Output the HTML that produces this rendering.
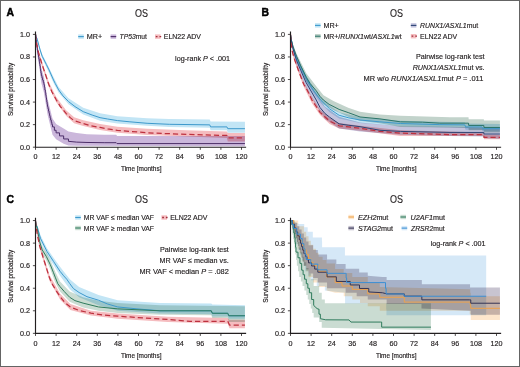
<!DOCTYPE html>
<html><head><meta charset="utf-8"><style>
html,body{margin:0;padding:0;background:#fff;}
body{width:520px;height:367px;overflow:hidden;position:relative;}
.frame{position:absolute;left:0;top:0;width:518px;height:365px;border:1px solid #646464;}
svg{position:absolute;left:0;top:0;filter:blur(0.35px);}
text{font-family:"Liberation Sans", sans-serif;fill:#231f20;stroke:#231f20;stroke-width:0.16px;}
.tk{font-size:7.2px;}
.lg{font-size:7.2px;}
.ax{font-size:7.8px;stroke-width:0.2px;}
.ttl{font-size:10px;stroke-width:0.14px;}
.pl{font-size:10.4px;font-weight:bold;fill:#000;stroke:#000;stroke-width:0.45px;}
</style></head><body>
<svg width="520" height="367" viewBox="0 0 520 367">
<text x="6.4" y="15.6" class="pl">A</text>
<text x="261.6" y="15.6" class="pl">B</text>
<text x="6.4" y="202.5" class="pl">C</text>
<text x="261.6" y="202.5" class="pl">D</text>
<path d="M35.50,34.40 L37.30,38.01 L38.93,43.99 L40.13,47.94 L42.20,54.14 L46.31,62.04 L53.53,77.04 L58.67,87.08 L68.46,98.13 L83.22,107.72 L100.05,113.36 L117.39,116.18 L147.08,118.21 L169.23,119.00 L209.74,119.56 L210.60,121.48 L244.93,121.82 L244.93,132.76 L227.77,132.76 L226.91,130.28 L210.60,130.28 L209.74,127.80 L169.23,126.90 L147.08,125.77 L117.39,123.51 L100.05,120.69 L83.22,114.49 L68.46,104.34 L58.67,92.72 L53.53,82.90 L46.31,66.89 L42.20,58.54 L40.13,51.88 L38.93,47.37 L37.30,40.94 L35.50,34.40 Z" fill="#c2e5f5" fill-opacity="1.00" style="mix-blend-mode:multiply"/>
<path d="M35.50,34.40 L37.30,44.55 L38.50,49.97 L39.79,54.48 L42.20,62.26 L43.74,66.77 L48.72,81.78 L56.10,96.67 L66.06,110.20 L74.12,117.31 L83.22,120.13 L100.05,124.08 L117.39,126.67 L147.08,128.81 L186.57,130.28 L226.91,131.41 L227.77,133.10 L244.93,133.10 L244.93,141.56 L227.77,141.56 L226.91,137.95 L186.57,136.60 L147.08,135.02 L117.39,132.76 L100.05,130.05 L83.22,125.99 L74.12,123.29 L66.06,115.84 L56.10,102.08 L48.72,86.74 L43.74,71.96 L42.20,67.45 L39.79,59.44 L38.50,54.93 L37.30,49.06 L35.50,34.40 Z" fill="#f5bcbf" fill-opacity="1.00" style="mix-blend-mode:multiply"/>
<path d="M35.50,34.40 L36.02,37.78 L37.30,45.68 L39.28,55.83 L41.34,68.24 L43.91,76.70 L47.52,98.70 L52.50,118.44 L56.10,124.08 L63.65,128.59 L68.46,131.41 L76.70,133.10 L87.00,134.23 L104.17,134.79 L116.18,134.79 L117.04,135.92 L244.93,135.92 L244.93,146.30 L76.70,145.85 L68.46,145.51 L63.65,143.82 L56.10,139.30 L52.50,134.79 L47.52,114.49 L43.91,92.49 L41.34,82.90 L39.28,67.11 L37.30,54.70 L36.02,42.30 L35.50,34.40 Z" fill="#cbb7db" fill-opacity="1.00" style="mix-blend-mode:multiply"/>
<path d="M35.50,34.40 L36.19,36.66 L37.30,39.48 L38.93,45.68 L40.13,49.97 L42.20,56.28 L46.31,64.40 L49.06,69.93 L53.53,79.97 L55.24,83.47 L58.67,89.90 L62.97,95.88 L68.46,101.52 L74.98,106.59 L83.22,111.67 L92.15,115.05 L100.05,117.65 L107.60,119.00 L117.39,120.58 L129.92,121.82 L147.08,123.29 L169.23,124.30 L209.74,124.87 L210.60,126.90 L226.91,126.90 L227.77,128.70 L244.93,128.70" fill="none" stroke="#3d99cc" stroke-width="1.00" stroke-linejoin="round"/>
<path d="M35.50,34.40 L35.76,34.40 L35.76,37.22 L36.02,37.22 L36.02,40.04 L36.34,40.04 L36.34,42.52 L36.66,42.52 L36.66,45.00 L36.98,45.00 L36.98,47.48 L37.30,47.48 L37.30,49.97 L37.70,49.97 L37.70,52.27 L38.09,52.27 L38.09,54.57 L38.49,54.57 L38.49,56.87 L38.88,56.87 L38.88,59.17 L39.28,59.17 L39.28,61.47 L39.62,61.47 L39.62,63.82 L39.96,63.82 L39.96,66.17 L40.31,66.17 L40.31,68.52 L40.65,68.52 L40.65,70.87 L40.99,70.87 L40.99,73.22 L41.34,73.22 L41.34,75.57 L41.98,75.57 L41.98,77.83 L42.62,77.83 L42.62,80.08 L43.27,80.08 L43.27,82.34 L43.91,82.34 L43.91,84.60 L44.38,84.60 L44.38,87.27 L44.86,87.27 L44.86,89.95 L45.33,89.95 L45.33,92.63 L45.80,92.63 L45.80,95.31 L46.14,95.31 L46.14,97.57 L46.49,97.57 L46.49,99.82 L46.83,99.82 L46.83,102.08 L47.17,102.08 L47.17,104.34 L47.52,104.34 L47.52,106.59 L48.03,106.59 L48.03,108.85 L48.55,108.85 L48.55,111.10 L49.06,111.10 L49.06,113.36 L49.58,113.36 L49.58,115.62 L50.09,115.62 L50.09,117.87 L50.69,117.87 L50.69,120.13 L51.29,120.13 L51.29,122.38 L51.89,122.38 L51.89,124.64 L52.50,124.64 L52.50,126.90 L54.38,126.90 L54.38,130.28 L56.10,130.28 L56.10,132.87 L59.53,132.87 L59.53,135.92 L63.65,135.92 L63.65,138.97 L68.46,138.97 L68.46,141.33 L76.70,142.12 L87.00,142.46 L104.17,142.69 L116.18,142.69 L117.04,143.59 L244.93,143.59" fill="none" stroke="#4b2d68" stroke-width="1.00" stroke-linejoin="round"/>
<path d="M35.50,34.40 L36.02,40.04 L37.30,46.81 L38.50,52.45 L39.79,56.96 L42.20,64.86 L43.74,69.37 L46.66,77.83 L48.72,84.26 L51.98,91.93 L56.10,99.49 L60.39,106.59 L66.06,113.36 L70.52,117.87 L74.12,120.69 L83.22,123.51 L90.95,125.77 L100.05,127.46 L107.60,128.93 L117.39,130.28 L129.92,131.41 L147.08,132.76 L167.68,133.66 L186.57,134.34 L226.91,135.47 L227.77,137.95 L244.93,137.95" fill="none" stroke="#bd303e" stroke-width="1.25" stroke-linejoin="round" stroke-dasharray="5.2,3.0"/>
<path d="M35.50,31.60 V147.20 H246.14" fill="none" stroke="#231f20" stroke-width="1.15"/>
<path d="M32.90,147.20 H35.50" stroke="#231f20" stroke-width="0.8"/>
<text x="29.90" y="149.70" text-anchor="end" class="tk">0.0</text>
<path d="M32.90,124.64 H35.50" stroke="#231f20" stroke-width="0.8"/>
<text x="29.90" y="127.14" text-anchor="end" class="tk">0.2</text>
<path d="M32.90,102.08 H35.50" stroke="#231f20" stroke-width="0.8"/>
<text x="29.90" y="104.58" text-anchor="end" class="tk">0.4</text>
<path d="M32.90,79.52 H35.50" stroke="#231f20" stroke-width="0.8"/>
<text x="29.90" y="82.02" text-anchor="end" class="tk">0.6</text>
<path d="M32.90,56.96 H35.50" stroke="#231f20" stroke-width="0.8"/>
<text x="29.90" y="59.46" text-anchor="end" class="tk">0.8</text>
<path d="M32.90,34.40 H35.50" stroke="#231f20" stroke-width="0.8"/>
<text x="29.90" y="36.90" text-anchor="end" class="tk">1.0</text>
<path d="M35.50,147.20 V149.80" stroke="#231f20" stroke-width="0.8"/>
<text x="35.50" y="159.10" text-anchor="middle" class="tk">0</text>
<path d="M56.10,147.20 V149.80" stroke="#231f20" stroke-width="0.8"/>
<text x="56.10" y="159.10" text-anchor="middle" class="tk">12</text>
<path d="M76.70,147.20 V149.80" stroke="#231f20" stroke-width="0.8"/>
<text x="76.70" y="159.10" text-anchor="middle" class="tk">24</text>
<path d="M97.30,147.20 V149.80" stroke="#231f20" stroke-width="0.8"/>
<text x="97.30" y="159.10" text-anchor="middle" class="tk">36</text>
<path d="M117.90,147.20 V149.80" stroke="#231f20" stroke-width="0.8"/>
<text x="117.90" y="159.10" text-anchor="middle" class="tk">48</text>
<path d="M138.50,147.20 V149.80" stroke="#231f20" stroke-width="0.8"/>
<text x="138.50" y="159.10" text-anchor="middle" class="tk">60</text>
<path d="M159.10,147.20 V149.80" stroke="#231f20" stroke-width="0.8"/>
<text x="159.10" y="159.10" text-anchor="middle" class="tk">72</text>
<path d="M179.70,147.20 V149.80" stroke="#231f20" stroke-width="0.8"/>
<text x="179.70" y="159.10" text-anchor="middle" class="tk">84</text>
<path d="M200.30,147.20 V149.80" stroke="#231f20" stroke-width="0.8"/>
<text x="200.30" y="159.10" text-anchor="middle" class="tk">96</text>
<path d="M220.90,147.20 V149.80" stroke="#231f20" stroke-width="0.8"/>
<text x="220.90" y="159.10" text-anchor="middle" class="tk">108</text>
<path d="M241.50,147.20 V149.80" stroke="#231f20" stroke-width="0.8"/>
<text x="241.50" y="159.10" text-anchor="middle" class="tk">120</text>
<text x="141.20" y="170.90" text-anchor="middle" class="ax" textLength="40.5" lengthAdjust="spacingAndGlyphs">Time [months]</text>
<text transform="translate(11.10,89.40) rotate(-90)" x="0" y="2.2" text-anchor="middle" class="ax" textLength="53" lengthAdjust="spacingAndGlyphs">Survival probability</text>
<text x="134.90" y="16.50" class="ttl" textLength="13.0" lengthAdjust="spacingAndGlyphs">OS</text>
<rect x="78.20" y="34.40" width="5.6" height="4.4" fill="#c2e5f5"/><path d="M78.20,36.60 h5.6" stroke="#3d99cc" stroke-width="1.1"/>
<text x="86.8" y="39.1" class="lg">MR+</text>
<rect x="110.60" y="34.40" width="5.6" height="4.4" fill="#cbb7db"/><path d="M110.60,36.60 h5.6" stroke="#4b2d68" stroke-width="1.1"/>
<text x="119.6" y="39.1" class="lg" lengthAdjust="spacingAndGlyphs" textLength="27.2"><tspan font-style="italic">TP53</tspan>mut</text>
<rect x="155.00" y="34.40" width="5.6" height="4.4" fill="#f5bcbf"/><path d="M155.80,36.60 h1.7 m2.0,0 h1.7" stroke="#a02c3a" stroke-width="1.3"/>
<text x="163.8" y="39.1" class="lg" lengthAdjust="spacingAndGlyphs" textLength="37.2">ELN22 ADV</text>
<text x="230" y="61.0" text-anchor="end" class="lg">log-rank <tspan font-style="italic">P</tspan> &lt; .001</text>
<path d="M290.50,34.40 L293.07,44.55 L296.51,53.58 L306.29,73.32 L316.25,86.29 L323.46,95.31 L333.42,100.95 L348.18,107.72 L360.02,111.67 L379.94,114.49 L400.37,115.84 L449.98,117.20 L468.52,117.20 L468.69,119.34 L483.80,119.34 L483.97,120.47 L499.93,120.47 L499.93,132.54 L483.97,132.54 L483.80,130.28 L468.69,130.28 L468.52,128.02 L449.98,127.46 L400.37,126.90 L379.94,123.29 L360.02,120.69 L348.18,116.74 L333.42,109.98 L323.46,104.34 L316.25,95.31 L306.29,81.21 L296.51,58.65 L293.07,49.06 L290.50,34.40 Z" fill="#c2d3cb" fill-opacity="1.00" style="mix-blend-mode:multiply"/>
<path d="M290.50,34.40 L293.07,45.68 L295.48,53.58 L301.14,65.42 L306.81,76.14 L313.16,86.85 L320.71,97.00 L329.64,105.46 L339.08,112.23 L360.02,117.31 L400.37,120.69 L439.85,121.82 L464.74,122.16 L465.60,123.51 L499.93,124.08 L499.93,131.41 L482.77,131.41 L481.91,129.72 L465.60,129.72 L464.74,127.46 L439.85,127.23 L400.37,126.33 L360.02,122.95 L339.08,118.44 L329.64,112.23 L320.71,103.21 L313.16,93.06 L306.81,82.90 L301.14,71.06 L295.48,59.22 L293.07,50.19 L290.50,34.40 Z" fill="#c2e5f5" fill-opacity="1.00" style="mix-blend-mode:multiply"/>
<path d="M290.50,34.40 L293.07,45.68 L296.51,55.83 L305.95,76.70 L316.25,94.18 L324.83,106.59 L339.08,116.74 L360.02,122.38 L400.37,126.33 L499.93,127.46 L499.93,138.74 L483.97,138.18 L483.80,136.48 L449.98,135.92 L400.37,134.79 L360.02,131.41 L339.08,128.59 L324.83,119.00 L316.25,105.46 L305.95,87.98 L296.51,64.86 L293.07,52.45 L290.50,34.40 Z" fill="#c4c4de" fill-opacity="1.00" style="mix-blend-mode:multiply"/>
<path d="M290.50,34.40 L292.22,49.06 L294.62,57.52 L298.74,68.80 L303.72,81.78 L311.96,97.00 L320.03,109.41 L329.64,117.87 L339.08,122.95 L360.02,125.77 L400.37,130.28 L483.80,132.54 L483.97,134.79 L499.93,134.79 L499.93,139.30 L483.97,139.30 L483.80,135.92 L400.37,135.92 L360.02,130.84 L339.08,128.59 L329.64,124.08 L320.03,115.05 L311.96,103.21 L303.72,86.74 L298.74,73.54 L294.62,61.81 L292.22,53.58 L290.50,34.40 Z" fill="#f5bcbf" fill-opacity="1.00" style="mix-blend-mode:multiply"/>
<path d="M290.50,34.40 L291.36,40.04 L293.07,47.94 L295.48,56.40 L301.14,68.24 L306.81,79.52 L313.16,90.01 L320.71,100.05 L329.64,108.85 L339.08,115.28 L348.87,117.87 L360.02,120.02 L379.77,121.82 L400.37,123.51 L439.85,124.64 L464.74,124.87 L465.60,126.90 L481.91,126.90 L482.77,128.70 L499.93,128.70" fill="none" stroke="#3d99cc" stroke-width="1.00" stroke-linejoin="round"/>
<path d="M290.50,34.40 L291.36,40.04 L293.07,46.81 L296.51,56.17 L300.80,65.98 L306.29,77.26 L310.07,83.47 L316.25,90.80 L320.03,96.44 L323.46,100.05 L329.12,104.34 L339.08,109.41 L348.18,112.57 L360.02,116.97 L379.94,118.89 L400.37,121.82 L422.51,122.16 L439.85,123.17 L468.52,123.17 L468.69,125.43 L483.80,125.43 L483.97,127.46 L499.93,127.46" fill="none" stroke="#2a7468" stroke-width="1.00" stroke-linejoin="round"/>
<path d="M290.50,34.40 L291.36,41.17 L293.07,49.06 L296.51,60.34 L300.80,70.50 L305.95,82.34 L310.41,90.01 L316.25,100.05 L320.03,107.49 L324.83,113.36 L329.64,117.20 L339.08,123.85 L348.18,125.20 L360.02,126.67 L379.94,130.28 L400.37,131.41 L449.98,132.42 L483.80,132.42 L483.97,134.00 L499.93,134.00" fill="none" stroke="#2c4474" stroke-width="1.00" stroke-linejoin="round"/>
<path d="M290.50,34.40 L291.19,43.42 L292.22,51.32 L294.62,59.67 L298.74,71.17 L303.72,84.26 L307.15,90.01 L311.96,100.05 L320.03,112.34 L329.64,121.03 L339.08,125.77 L360.02,128.25 L379.77,131.41 L400.37,133.10 L449.98,134.68 L483.80,134.68 L483.97,137.39 L499.93,137.39" fill="none" stroke="#bd303e" stroke-width="1.25" stroke-linejoin="round" stroke-dasharray="5.2,3.0"/>
<path d="M290.50,31.60 V147.20 H501.13" fill="none" stroke="#231f20" stroke-width="1.15"/>
<path d="M287.90,147.20 H290.50" stroke="#231f20" stroke-width="0.8"/>
<text x="284.90" y="149.70" text-anchor="end" class="tk">0.0</text>
<path d="M287.90,124.64 H290.50" stroke="#231f20" stroke-width="0.8"/>
<text x="284.90" y="127.14" text-anchor="end" class="tk">0.2</text>
<path d="M287.90,102.08 H290.50" stroke="#231f20" stroke-width="0.8"/>
<text x="284.90" y="104.58" text-anchor="end" class="tk">0.4</text>
<path d="M287.90,79.52 H290.50" stroke="#231f20" stroke-width="0.8"/>
<text x="284.90" y="82.02" text-anchor="end" class="tk">0.6</text>
<path d="M287.90,56.96 H290.50" stroke="#231f20" stroke-width="0.8"/>
<text x="284.90" y="59.46" text-anchor="end" class="tk">0.8</text>
<path d="M287.90,34.40 H290.50" stroke="#231f20" stroke-width="0.8"/>
<text x="284.90" y="36.90" text-anchor="end" class="tk">1.0</text>
<path d="M290.50,147.20 V149.80" stroke="#231f20" stroke-width="0.8"/>
<text x="290.50" y="159.10" text-anchor="middle" class="tk">0</text>
<path d="M311.10,147.20 V149.80" stroke="#231f20" stroke-width="0.8"/>
<text x="311.10" y="159.10" text-anchor="middle" class="tk">12</text>
<path d="M331.70,147.20 V149.80" stroke="#231f20" stroke-width="0.8"/>
<text x="331.70" y="159.10" text-anchor="middle" class="tk">24</text>
<path d="M352.30,147.20 V149.80" stroke="#231f20" stroke-width="0.8"/>
<text x="352.30" y="159.10" text-anchor="middle" class="tk">36</text>
<path d="M372.90,147.20 V149.80" stroke="#231f20" stroke-width="0.8"/>
<text x="372.90" y="159.10" text-anchor="middle" class="tk">48</text>
<path d="M393.50,147.20 V149.80" stroke="#231f20" stroke-width="0.8"/>
<text x="393.50" y="159.10" text-anchor="middle" class="tk">60</text>
<path d="M414.10,147.20 V149.80" stroke="#231f20" stroke-width="0.8"/>
<text x="414.10" y="159.10" text-anchor="middle" class="tk">72</text>
<path d="M434.70,147.20 V149.80" stroke="#231f20" stroke-width="0.8"/>
<text x="434.70" y="159.10" text-anchor="middle" class="tk">84</text>
<path d="M455.30,147.20 V149.80" stroke="#231f20" stroke-width="0.8"/>
<text x="455.30" y="159.10" text-anchor="middle" class="tk">96</text>
<path d="M475.90,147.20 V149.80" stroke="#231f20" stroke-width="0.8"/>
<text x="475.90" y="159.10" text-anchor="middle" class="tk">108</text>
<path d="M496.50,147.20 V149.80" stroke="#231f20" stroke-width="0.8"/>
<text x="496.50" y="159.10" text-anchor="middle" class="tk">120</text>
<text x="396.20" y="170.90" text-anchor="middle" class="ax" textLength="40.5" lengthAdjust="spacingAndGlyphs">Time [months]</text>
<text transform="translate(266.10,89.40) rotate(-90)" x="0" y="2.2" text-anchor="middle" class="ax" textLength="53" lengthAdjust="spacingAndGlyphs">Survival probability</text>
<text x="389.90" y="16.50" class="ttl" textLength="13.0" lengthAdjust="spacingAndGlyphs">OS</text>
<rect x="315.00" y="23.20" width="5.6" height="4.4" fill="#c2e5f5"/><path d="M315.00,25.40 h5.6" stroke="#3d99cc" stroke-width="1.1"/>
<text x="323.4" y="27.9" class="lg">MR+</text>
<rect x="315.00" y="34.00" width="5.6" height="4.4" fill="#c2d3cb"/><path d="M315.00,36.20 h5.6" stroke="#2a7468" stroke-width="1.1"/>
<text x="323.4" y="38.7" class="lg" lengthAdjust="spacingAndGlyphs" textLength="78.2">MR+/<tspan font-style="italic">RUNX1</tspan>wt/<tspan font-style="italic">ASXL1</tspan>wt</text>
<rect x="410.80" y="23.20" width="5.6" height="4.4" fill="#c4c4de"/><path d="M410.80,25.40 h5.6" stroke="#2c4474" stroke-width="1.1"/>
<text x="420.0" y="27.9" class="lg" lengthAdjust="spacingAndGlyphs" textLength="58.2"><tspan font-style="italic">RUNX1/ASXL1</tspan>mut</text>
<rect x="410.80" y="34.00" width="5.6" height="4.4" fill="#f5bcbf"/><path d="M411.60,36.20 h1.7 m2.0,0 h1.7" stroke="#a02c3a" stroke-width="1.3"/>
<text x="420.0" y="38.7" class="lg" lengthAdjust="spacingAndGlyphs" textLength="37.2">ELN22 ADV</text>
<text x="484.6" y="59.2" text-anchor="end" class="lg">Pairwise log-rank test</text>
<text x="484.6" y="70.1" text-anchor="end" class="lg"><tspan font-style="italic">RUNX1/ASXL1</tspan>mut vs.</text>
<text x="363.6" y="80.9" class="lg" lengthAdjust="spacingAndGlyphs" textLength="119.7">MR w/o <tspan font-style="italic">RUNX1/ASXL1</tspan>mut <tspan font-style="italic">P</tspan> = .011</text>
<path d="M35.50,220.55 L37.22,225.63 L39.62,238.03 L42.20,245.93 L46.31,252.13 L50.26,260.03 L55.24,271.87 L60.05,281.46 L69.66,291.61 L83.05,297.25 L98.50,300.64 L117.73,302.89 L159.96,305.15 L244.93,306.28 L244.93,322.07 L228.80,322.07 L227.77,318.12 L212.32,318.12 L211.29,315.30 L159.96,314.74 L117.73,313.05 L98.50,310.79 L83.05,307.41 L69.66,301.77 L60.05,291.61 L55.24,282.59 L50.26,269.05 L46.31,260.59 L42.20,253.83 L39.62,245.37 L37.22,231.83 L35.50,220.55 Z" fill="#cadcd2" fill-opacity="1.00" style="mix-blend-mode:multiply"/>
<path d="M35.50,220.55 L37.22,225.06 L40.48,235.21 L47.00,248.19 L53.53,257.77 L60.05,266.80 L69.83,279.21 L79.10,287.10 L98.50,295.00 L117.73,300.19 L159.96,302.89 L211.29,303.46 L212.32,304.59 L244.93,305.15 L244.93,318.69 L228.80,318.69 L227.77,316.43 L212.32,316.43 L211.29,314.17 L159.96,313.61 L117.73,310.79 L98.50,305.15 L79.10,297.25 L69.83,289.36 L60.05,275.82 L53.53,265.11 L47.00,254.95 L40.48,241.42 L37.22,229.01 L35.50,220.55 Z" fill="#c2e5f5" fill-opacity="1.00" style="mix-blend-mode:multiply"/>
<path d="M35.50,220.55 L37.30,231.83 L39.62,243.11 L43.05,254.39 L49.58,275.26 L60.22,293.87 L70.35,304.02 L90.95,310.79 L117.73,313.61 L167.68,316.66 L227.77,318.12 L229.48,319.81 L244.93,319.81 L244.93,328.27 L229.48,328.27 L227.77,323.76 L167.68,322.07 L117.73,318.69 L90.95,315.53 L70.35,309.89 L60.22,299.74 L49.58,280.90 L43.05,260.03 L39.62,248.52 L37.30,236.79 L35.50,220.55 Z" fill="#f5bcbf" fill-opacity="1.00" style="mix-blend-mode:multiply"/>
<path d="M35.50,220.55 L36.19,225.06 L37.22,226.87 L40.48,238.37 L47.00,251.46 L53.53,261.38 L60.05,271.31 L63.65,275.82 L66.74,279.21 L69.83,283.72 L73.44,288.57 L79.10,292.52 L87.00,296.69 L98.50,300.19 L107.60,304.02 L117.73,306.95 L136.96,308.87 L159.96,310.79 L211.29,310.79 L212.32,313.27 L227.77,313.27 L228.80,315.75 L244.93,315.75" fill="none" stroke="#3d99cc" stroke-width="1.00" stroke-linejoin="round"/>
<path d="M35.50,220.55 L36.19,225.06 L37.22,228.45 L39.62,241.64 L42.20,249.88 L46.31,256.42 L50.26,264.54 L53.53,272.78 L55.24,277.18 L57.82,283.72 L60.05,286.65 L64.34,291.61 L69.66,297.25 L74.98,300.64 L83.05,303.12 L98.50,306.95 L117.73,308.87 L159.96,310.79 L211.29,310.79 L212.32,313.27 L227.77,313.27 L228.80,315.75 L244.93,315.75" fill="none" stroke="#2f7b5c" stroke-width="1.00" stroke-linejoin="round"/>
<path d="M35.50,220.55 L36.02,226.19 L37.30,234.31 L39.62,245.82 L43.05,257.21 L46.14,267.02 L49.58,278.08 L52.67,284.85 L56.10,290.49 L60.22,296.80 L64.68,302.33 L70.35,306.95 L78.42,310.23 L90.95,313.16 L104.17,315.08 L117.73,316.20 L129.92,316.99 L167.68,319.48 L190.00,321.28 L227.77,321.28 L229.48,325.00 L244.93,325.00" fill="none" stroke="#bd303e" stroke-width="1.25" stroke-linejoin="round" stroke-dasharray="5.2,3.0"/>
<path d="M35.50,217.75 V333.35 H246.14" fill="none" stroke="#231f20" stroke-width="1.15"/>
<path d="M32.90,333.35 H35.50" stroke="#231f20" stroke-width="0.8"/>
<text x="29.90" y="335.85" text-anchor="end" class="tk">0.0</text>
<path d="M32.90,310.79 H35.50" stroke="#231f20" stroke-width="0.8"/>
<text x="29.90" y="313.29" text-anchor="end" class="tk">0.2</text>
<path d="M32.90,288.23 H35.50" stroke="#231f20" stroke-width="0.8"/>
<text x="29.90" y="290.73" text-anchor="end" class="tk">0.4</text>
<path d="M32.90,265.67 H35.50" stroke="#231f20" stroke-width="0.8"/>
<text x="29.90" y="268.17" text-anchor="end" class="tk">0.6</text>
<path d="M32.90,243.11 H35.50" stroke="#231f20" stroke-width="0.8"/>
<text x="29.90" y="245.61" text-anchor="end" class="tk">0.8</text>
<path d="M32.90,220.55 H35.50" stroke="#231f20" stroke-width="0.8"/>
<text x="29.90" y="223.05" text-anchor="end" class="tk">1.0</text>
<path d="M35.50,333.35 V335.95" stroke="#231f20" stroke-width="0.8"/>
<text x="35.50" y="346.00" text-anchor="middle" class="tk">0</text>
<path d="M56.10,333.35 V335.95" stroke="#231f20" stroke-width="0.8"/>
<text x="56.10" y="346.00" text-anchor="middle" class="tk">12</text>
<path d="M76.70,333.35 V335.95" stroke="#231f20" stroke-width="0.8"/>
<text x="76.70" y="346.00" text-anchor="middle" class="tk">24</text>
<path d="M97.30,333.35 V335.95" stroke="#231f20" stroke-width="0.8"/>
<text x="97.30" y="346.00" text-anchor="middle" class="tk">36</text>
<path d="M117.90,333.35 V335.95" stroke="#231f20" stroke-width="0.8"/>
<text x="117.90" y="346.00" text-anchor="middle" class="tk">48</text>
<path d="M138.50,333.35 V335.95" stroke="#231f20" stroke-width="0.8"/>
<text x="138.50" y="346.00" text-anchor="middle" class="tk">60</text>
<path d="M159.10,333.35 V335.95" stroke="#231f20" stroke-width="0.8"/>
<text x="159.10" y="346.00" text-anchor="middle" class="tk">72</text>
<path d="M179.70,333.35 V335.95" stroke="#231f20" stroke-width="0.8"/>
<text x="179.70" y="346.00" text-anchor="middle" class="tk">84</text>
<path d="M200.30,333.35 V335.95" stroke="#231f20" stroke-width="0.8"/>
<text x="200.30" y="346.00" text-anchor="middle" class="tk">96</text>
<path d="M220.90,333.35 V335.95" stroke="#231f20" stroke-width="0.8"/>
<text x="220.90" y="346.00" text-anchor="middle" class="tk">108</text>
<path d="M241.50,333.35 V335.95" stroke="#231f20" stroke-width="0.8"/>
<text x="241.50" y="346.00" text-anchor="middle" class="tk">120</text>
<text x="141.20" y="357.80" text-anchor="middle" class="ax" textLength="40.5" lengthAdjust="spacingAndGlyphs">Time [months]</text>
<text transform="translate(11.10,276.30) rotate(-90)" x="0" y="2.2" text-anchor="middle" class="ax" textLength="53" lengthAdjust="spacingAndGlyphs">Survival probability</text>
<text x="134.90" y="203.40" class="ttl" textLength="13.0" lengthAdjust="spacingAndGlyphs">OS</text>
<rect x="75.20" y="215.30" width="5.6" height="4.4" fill="#c2e5f5"/><path d="M75.20,217.50 h5.6" stroke="#3d99cc" stroke-width="1.1"/>
<text x="83.8" y="220.0" class="lg" lengthAdjust="spacingAndGlyphs" textLength="70.2">MR VAF ≤ median VAF</text>
<rect x="75.20" y="225.80" width="5.6" height="4.4" fill="#cadcd2"/><path d="M75.20,228.00 h5.6" stroke="#2f7b5c" stroke-width="1.1"/>
<text x="83.8" y="230.5" class="lg" lengthAdjust="spacingAndGlyphs" textLength="70.2">MR VAF ≥ median VAF</text>
<rect x="161.40" y="215.30" width="5.6" height="4.4" fill="#f5bcbf"/><path d="M162.20,217.50 h1.7 m2.0,0 h1.7" stroke="#a02c3a" stroke-width="1.3"/>
<text x="170.2" y="220.0" class="lg" lengthAdjust="spacingAndGlyphs" textLength="37.2">ELN22 ADV</text>
<text x="228.8" y="252.1" text-anchor="end" class="lg">Pairwise log-rank test</text>
<text x="228.8" y="263.3" text-anchor="end" class="lg">MR VAF ≤ median vs.</text>
<text x="139.5" y="273.8" class="lg" lengthAdjust="spacingAndGlyphs" textLength="89.3">MR VAF &lt; median <tspan font-style="italic">P</tspan> = .082</text>
<path d="M290.50,220.55 L295.65,222.24 L299.08,223.93 L304.23,223.93 L304.23,227.32 L307.67,227.32 L307.67,231.83 L312.82,231.83 L312.82,237.47 L321.92,237.47 L321.92,241.19 L322.09,241.19 L322.09,247.17 L344.75,247.17 L344.92,247.17 L344.92,255.52 L486.20,255.52 L486.20,315.30 L386.46,315.30 L386.46,309.38 L386.20,309.38 L386.20,303.46 L385.95,303.46 L345.09,303.46 L345.09,298.10 L345.00,298.10 L345.00,292.74 L344.92,292.74 L324.83,290.49 L324.83,285.97 L316.76,285.97 L316.76,280.33 L311.10,280.33 L311.10,275.82 L308.18,275.82 L308.18,271.31 L305.26,271.31 L305.26,265.95 L303.59,265.95 L303.59,260.59 L301.92,260.59 L301.92,255.24 L300.24,255.24 L300.24,249.88 L298.57,249.88 L298.57,244.24 L296.17,244.24 L296.17,238.60 L293.76,238.60 L293.76,232.58 L292.67,232.58 L292.67,226.57 L291.59,226.57 L291.59,220.55 L290.50,220.55 Z" fill="#d5e8f7" fill-opacity="1.00" style="mix-blend-mode:multiply"/>
<path d="M290.50,220.55 L294.62,222.81 L296.94,222.81 L296.94,226.19 L299.25,226.19 L299.25,229.57 L301.57,229.57 L301.57,233.52 L303.89,233.52 L303.89,237.47 L306.21,237.47 L306.21,241.42 L308.52,241.42 L308.52,245.37 L313.16,245.37 L313.16,249.88 L317.80,249.88 L317.80,254.39 L327.06,254.39 L327.06,259.47 L336.34,259.47 L336.34,264.09 L345.61,264.09 L345.61,268.72 L359.17,268.72 L359.17,272.44 L367.75,272.44 L367.75,275.82 L382.51,276.95 L386.63,276.95 L386.63,280.11 L421.48,280.11 L421.83,280.11 L421.83,284.28 L469.89,284.28 L470.06,284.28 L470.06,287.55 L499.93,287.55 L499.93,314.85 L470.75,314.85 L470.75,310.79 L469.89,310.79 L421.48,308.53 L421.48,304.02 L386.63,304.02 L386.63,299.51 L367.75,299.51 L367.75,296.13 L356.68,296.13 L356.68,292.74 L345.61,292.74 L345.61,288.23 L327.06,288.23 L327.06,282.59 L317.80,282.59 L317.80,278.08 L313.16,278.08 L313.16,273.57 L308.52,273.57 L308.52,269.62 L306.21,269.62 L306.21,265.67 L303.89,265.67 L303.89,261.72 L302.73,261.72 L302.73,257.77 L301.57,257.77 L301.57,253.83 L300.41,253.83 L300.41,249.88 L299.25,249.88 L299.25,245.93 L298.10,245.93 L298.10,241.98 L296.94,241.98 L296.94,238.03 L295.78,238.03 L295.78,234.09 L294.62,234.09 L294.62,229.57 L293.25,229.57 L293.25,225.06 L291.87,225.06 L291.87,220.55 L290.50,220.55 Z" fill="#c8c4d0" fill-opacity="1.00" style="mix-blend-mode:multiply"/>
<path d="M290.50,220.55 L293.76,220.55 L298.23,220.55 L298.23,226.19 L303.89,226.19 L303.89,231.83 L306.21,231.83 L306.21,236.34 L308.52,236.34 L308.52,240.85 L310.84,240.85 L310.84,244.80 L313.16,244.80 L313.16,248.75 L315.91,248.75 L315.91,252.70 L318.65,252.70 L318.65,256.65 L322.60,256.65 L322.60,260.03 L326.55,260.03 L326.55,263.41 L335.13,263.41 L335.13,269.05 L343.72,269.05 L343.72,273.00 L352.30,273.00 L352.30,276.95 L367.75,276.95 L367.75,282.59 L379.77,282.59 L379.77,287.10 L469.72,289.36 L470.24,289.36 L470.24,292.74 L470.75,292.74 L470.75,296.13 L499.93,296.13 L499.93,320.04 L470.75,320.04 L470.75,314.17 L469.72,314.17 L469.72,310.79 L379.77,310.79 L379.77,306.28 L367.75,306.28 L367.75,302.89 L360.02,302.89 L360.02,299.51 L352.30,299.51 L352.30,296.13 L343.72,296.13 L343.72,292.74 L335.13,292.74 L326.55,290.49 L326.55,287.10 L318.65,287.10 L318.65,282.59 L313.16,282.59 L313.16,276.95 L308.52,276.95 L308.52,271.31 L306.21,271.31 L306.21,265.67 L303.89,265.67 L303.89,261.44 L302.47,261.44 L302.47,257.21 L301.06,257.21 L301.06,252.98 L299.64,252.98 L299.64,248.75 L298.23,248.75 L298.23,243.86 L296.74,243.86 L296.74,238.97 L295.25,238.97 L295.25,234.09 L293.76,234.09 L293.76,229.57 L292.67,229.57 L292.67,225.06 L291.59,225.06 L291.59,220.55 L290.50,220.55 Z" fill="#fde6cc" fill-opacity="1.00" style="mix-blend-mode:multiply"/>
<path d="M290.50,220.55 L294.62,220.55 L294.62,226.19 L295.74,226.19 L295.74,231.27 L296.85,231.27 L296.85,236.34 L298.05,236.34 L298.05,241.98 L299.25,241.98 L299.25,247.62 L300.89,247.62 L300.89,252.13 L302.52,252.13 L302.52,256.65 L304.40,256.65 L304.40,262.29 L306.29,262.29 L306.29,267.93 L308.52,267.93 L308.52,273.57 L310.76,273.57 L310.76,279.21 L313.68,279.21 L313.68,285.97 L319.17,285.97 L319.17,292.74 L321.74,292.74 L321.74,299.51 L324.83,299.51 L324.83,303.35 L430.92,303.35 L430.92,329.97 L321.74,327.71 L321.74,322.07 L319.17,322.07 L319.17,317.56 L313.68,317.56 L313.68,313.05 L312.22,313.05 L312.22,308.53 L310.76,308.53 L310.76,304.02 L309.27,304.02 L309.27,299.51 L307.78,299.51 L307.78,295.00 L306.29,295.00 L306.29,290.49 L304.40,290.49 L304.40,285.97 L302.52,285.97 L302.52,281.46 L300.89,281.46 L300.89,276.95 L299.25,276.95 L299.25,271.31 L298.05,271.31 L298.05,265.67 L296.85,265.67 L296.85,260.03 L296.11,260.03 L296.11,254.39 L295.36,254.39 L295.36,248.75 L294.62,248.75 L294.62,244.05 L293.93,244.05 L293.93,239.35 L293.25,239.35 L293.25,234.65 L292.56,234.65 L292.56,229.95 L291.87,229.95 L291.87,225.25 L291.19,225.25 L291.19,220.55 L290.50,220.55 Z" fill="#cadcd2" fill-opacity="1.00" style="mix-blend-mode:multiply"/>
<path d="M290.50,220.55 L293.76,220.55 L293.76,226.19 L295.25,226.19 L295.25,229.57 L296.74,229.57 L296.74,232.96 L298.23,232.96 L298.23,236.34 L300.11,236.34 L300.11,240.85 L302.00,240.85 L302.00,245.37 L303.89,245.37 L303.89,249.88 L306.21,249.88 L306.21,254.39 L308.52,254.39 L308.52,258.90 L310.84,258.90 L310.84,262.29 L313.16,262.29 L313.16,265.67 L318.65,265.67 L318.65,271.31 L326.55,271.31 L326.55,276.95 L335.13,276.95 L335.13,282.59 L342.00,282.59 L342.00,285.97 L352.30,285.97 L352.30,289.36 L367.75,289.36 L367.75,293.87 L379.77,293.87 L379.77,297.25 L403.80,297.25 L404.31,297.25 L404.31,302.10 L469.72,302.10 L470.24,302.10 L470.24,305.21 L470.75,305.21 L470.75,308.31 L499.93,308.31" fill="none" stroke="#eea24a" stroke-width="1.00" stroke-linejoin="round"/>
<path d="M290.50,220.55 L291.79,220.55 L291.79,224.50 L293.07,224.50 L293.07,228.45 L293.85,228.45 L293.85,232.96 L294.62,232.96 L294.62,237.47 L295.08,237.47 L295.08,242.36 L295.54,242.36 L295.54,247.25 L295.99,247.25 L295.99,252.13 L297.97,252.13 L297.97,257.77 L299.94,257.77 L299.94,263.41 L301.66,263.41 L301.66,270.18 L303.12,270.18 L303.12,274.69 L304.58,274.69 L304.58,279.21 L306.29,279.21 L306.29,283.72 L307.84,283.72 L307.84,288.23 L309.38,288.23 L309.38,292.74 L311.62,292.74 L311.62,299.51 L313.68,299.51 L313.68,305.15 L315.56,307.41 L317.97,309.10 L319.00,309.10 L319.00,314.17 L320.37,314.17 L320.37,318.69 L325.69,319.81 L349.04,319.93 L350.93,322.07 L380.45,322.07 L381.66,322.07 L381.66,327.15 L430.92,327.15" fill="none" stroke="#2f7b5c" stroke-width="1.00" stroke-linejoin="round"/>
<path d="M290.50,220.55 L292.56,220.55 L292.56,224.27 L294.62,224.27 L294.62,227.99 L296.17,227.99 L296.17,231.91 L297.71,231.91 L297.71,235.82 L299.25,235.82 L299.25,239.73 L300.41,239.73 L300.41,243.19 L301.57,243.19 L301.57,246.66 L302.73,246.66 L302.73,250.13 L303.89,250.13 L303.89,253.60 L305.44,253.60 L305.44,256.68 L306.98,256.68 L306.98,259.77 L308.52,259.77 L308.52,262.85 L311.62,262.85 L311.62,265.97 L314.70,265.97 L314.70,269.09 L317.80,269.09 L317.80,272.21 L327.06,272.21 L327.06,276.84 L336.33,276.84 L336.33,281.46 L350.24,281.46 L350.24,284.96 L359.51,284.96 L359.51,288.46 L368.78,288.46 L368.78,291.95 L382.51,292.74 L386.63,293.87 L403.80,293.87 L404.31,293.87 L404.31,296.13 L421.48,296.13 L421.83,296.13 L421.83,299.85 L469.72,299.85 L470.75,299.85 L470.75,303.23 L499.93,303.23" fill="none" stroke="#353455" stroke-width="1.00" stroke-linejoin="round"/>
<path d="M290.50,220.55 L292.13,220.55 L292.13,224.50 L293.76,224.50 L293.76,228.45 L296.85,228.45 L296.85,234.09 L300.46,234.09 L300.46,238.49 L302.17,238.49 L302.17,243.67 L303.89,243.67 L303.89,248.86 L305.01,248.86 L305.01,254.16 L306.12,254.16 L306.12,259.47 L310.76,259.47 L310.76,264.09 L317.80,264.09 L317.80,269.84 L327.06,269.84 L327.06,273.34 L345.61,273.34 L346.12,273.34 L346.12,277.97 L346.63,277.97 L346.63,282.59 L384.92,282.59 L385.52,282.59 L385.52,288.29 L386.12,288.29 L386.12,293.98 L403.80,293.98 L404.31,296.24 L486.20,296.24" fill="none" stroke="#3b8fd4" stroke-width="1.00" stroke-linejoin="round"/>
<path d="M290.50,217.75 V333.35 H501.13" fill="none" stroke="#231f20" stroke-width="1.15"/>
<path d="M287.90,333.35 H290.50" stroke="#231f20" stroke-width="0.8"/>
<text x="284.90" y="335.85" text-anchor="end" class="tk">0.0</text>
<path d="M287.90,310.79 H290.50" stroke="#231f20" stroke-width="0.8"/>
<text x="284.90" y="313.29" text-anchor="end" class="tk">0.2</text>
<path d="M287.90,288.23 H290.50" stroke="#231f20" stroke-width="0.8"/>
<text x="284.90" y="290.73" text-anchor="end" class="tk">0.4</text>
<path d="M287.90,265.67 H290.50" stroke="#231f20" stroke-width="0.8"/>
<text x="284.90" y="268.17" text-anchor="end" class="tk">0.6</text>
<path d="M287.90,243.11 H290.50" stroke="#231f20" stroke-width="0.8"/>
<text x="284.90" y="245.61" text-anchor="end" class="tk">0.8</text>
<path d="M287.90,220.55 H290.50" stroke="#231f20" stroke-width="0.8"/>
<text x="284.90" y="223.05" text-anchor="end" class="tk">1.0</text>
<path d="M290.50,333.35 V335.95" stroke="#231f20" stroke-width="0.8"/>
<text x="290.50" y="346.00" text-anchor="middle" class="tk">0</text>
<path d="M311.10,333.35 V335.95" stroke="#231f20" stroke-width="0.8"/>
<text x="311.10" y="346.00" text-anchor="middle" class="tk">12</text>
<path d="M331.70,333.35 V335.95" stroke="#231f20" stroke-width="0.8"/>
<text x="331.70" y="346.00" text-anchor="middle" class="tk">24</text>
<path d="M352.30,333.35 V335.95" stroke="#231f20" stroke-width="0.8"/>
<text x="352.30" y="346.00" text-anchor="middle" class="tk">36</text>
<path d="M372.90,333.35 V335.95" stroke="#231f20" stroke-width="0.8"/>
<text x="372.90" y="346.00" text-anchor="middle" class="tk">48</text>
<path d="M393.50,333.35 V335.95" stroke="#231f20" stroke-width="0.8"/>
<text x="393.50" y="346.00" text-anchor="middle" class="tk">60</text>
<path d="M414.10,333.35 V335.95" stroke="#231f20" stroke-width="0.8"/>
<text x="414.10" y="346.00" text-anchor="middle" class="tk">72</text>
<path d="M434.70,333.35 V335.95" stroke="#231f20" stroke-width="0.8"/>
<text x="434.70" y="346.00" text-anchor="middle" class="tk">84</text>
<path d="M455.30,333.35 V335.95" stroke="#231f20" stroke-width="0.8"/>
<text x="455.30" y="346.00" text-anchor="middle" class="tk">96</text>
<path d="M475.90,333.35 V335.95" stroke="#231f20" stroke-width="0.8"/>
<text x="475.90" y="346.00" text-anchor="middle" class="tk">108</text>
<path d="M496.50,333.35 V335.95" stroke="#231f20" stroke-width="0.8"/>
<text x="496.50" y="346.00" text-anchor="middle" class="tk">120</text>
<text x="396.20" y="357.80" text-anchor="middle" class="ax" textLength="40.5" lengthAdjust="spacingAndGlyphs">Time [months]</text>
<text transform="translate(266.10,276.30) rotate(-90)" x="0" y="2.2" text-anchor="middle" class="ax" textLength="53" lengthAdjust="spacingAndGlyphs">Survival probability</text>
<text x="389.90" y="203.40" class="ttl" textLength="13.0" lengthAdjust="spacingAndGlyphs">OS</text>
<rect x="348.40" y="214.80" width="5.6" height="4.4" fill="#fde6cc"/><path d="M348.40,217.00 h5.6" stroke="#eea24a" stroke-width="1.1"/>
<text x="358.0" y="219.5" class="lg"><tspan font-style="italic">EZH2</tspan>mut</text>
<rect x="400.40" y="214.80" width="5.6" height="4.4" fill="#cadcd2"/><path d="M400.40,217.00 h5.6" stroke="#2f7b5c" stroke-width="1.1"/>
<text x="410.6" y="219.5" class="lg"><tspan font-style="italic">U2AF1</tspan>mut</text>
<rect x="348.40" y="225.90" width="5.6" height="4.4" fill="#c8c4d0"/><path d="M348.40,228.10 h5.6" stroke="#353455" stroke-width="1.1"/>
<text x="358.0" y="230.6" class="lg"><tspan font-style="italic">STAG2</tspan>mut</text>
<rect x="401.60" y="225.90" width="5.6" height="4.4" fill="#d5e8f7"/><path d="M401.60,228.10 h5.6" stroke="#3b8fd4" stroke-width="1.1"/>
<text x="411.0" y="230.6" class="lg" lengthAdjust="spacingAndGlyphs" textLength="33.6"><tspan font-style="italic">ZRSR2</tspan>mut</text>
<text x="485.6" y="246.0" text-anchor="end" class="lg">log-rank <tspan font-style="italic">P</tspan> &lt; .001</text>
</svg>
<div class="frame"></div>
</body></html>
